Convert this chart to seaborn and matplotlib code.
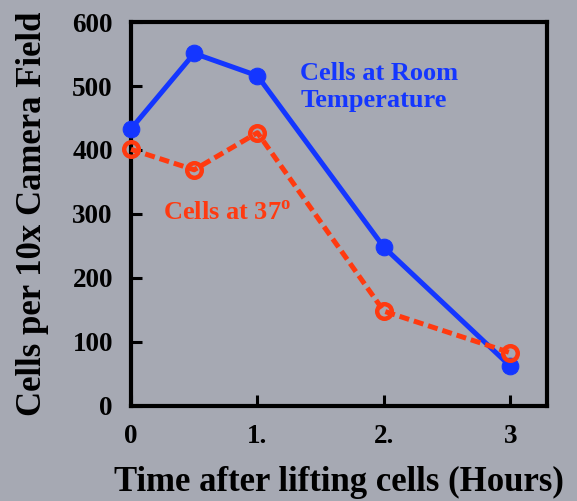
import pandas as pd
import matplotlib
matplotlib.use("Agg")
import matplotlib.pyplot as plt
import seaborn as sns

hours = [0, 0.5, 1, 2, 3]
room_temp = [433, 551, 516, 248, 62]
at_37 = [401, 369, 427, 148, 83]
x_ticks = [0, 1, 2, 3]
x_tick_labels = ["0", "1.", "2.", "3"]
y_ticks = [0, 100, 200, 300, 400, 500, 600]

bg = "#a6a9b3"
blue = "#1436ff"
red = "#ff3a10"

sns.set_style("ticks")
plt.rcParams["font.family"] = ["Liberation Serif", "DejaVu Serif"]
plt.rcParams["font.weight"] = "bold"
plt.rcParams["text.color"] = "black"
plt.rcParams["axes.labelcolor"] = "black"
plt.rcParams["xtick.color"] = "black"
plt.rcParams["ytick.color"] = "black"
plt.rcParams["mathtext.fontset"] = "custom"
plt.rcParams["mathtext.rm"] = "Liberation Serif:bold"
plt.rcParams["mathtext.bf"] = "Liberation Serif:bold"

df = pd.DataFrame({"hours": hours, "room": room_temp, "warm": at_37})

fig = plt.figure(figsize=(5.77, 5.01), dpi=100, facecolor=bg)
ax = fig.add_axes([0.227, 0.19, 0.721, 0.766])
ax.set_facecolor(bg)

sns.lineplot(data=df, x="hours", y="room", ax=ax, color=blue, linewidth=3.6,
             marker="o", markersize=12, markeredgecolor=blue, markerfacecolor=blue,
             clip_on=False, zorder=3)
sns.lineplot(data=df, x="hours", y="warm", ax=ax, color=red, linewidth=3.6,
             linestyle=(0, (2, 1)), marker="o", markersize=10.5,
             markerfacecolor="none", markeredgecolor=red, markeredgewidth=3.2,
             clip_on=False, zorder=4)

ax.set_xlim(0, 3.29)
ax.set_ylim(0, 600)
ax.set_xticks(x_ticks)
ax.set_xticklabels(x_tick_labels)
ax.set_yticks(y_ticks)
ax.tick_params(direction="in", length=8, width=2.2, labelsize=19.5, pad=13)
for s in ax.spines.values():
    s.set_linewidth(3)
    s.set_color("black")

ax.set_xlabel("Time after lifting cells (Hours)", fontsize=25, fontweight="bold", labelpad=12)
ax.set_ylabel("Cells per 10x Camera Field", fontsize=25, fontweight="bold", labelpad=17)

ax.text(1.34, 537, "Cells at Room\nTemperature", color=blue, fontsize=19,
        fontweight="bold", va="top", ha="left", linespacing=1.2)
ax.text(0.25, 301, r"Cells at 37$^{\mathbf{o}}$", color=red, fontsize=19,
        fontweight="bold", va="center", ha="left")

fig.savefig("out.png", dpi=100, facecolor=bg)
